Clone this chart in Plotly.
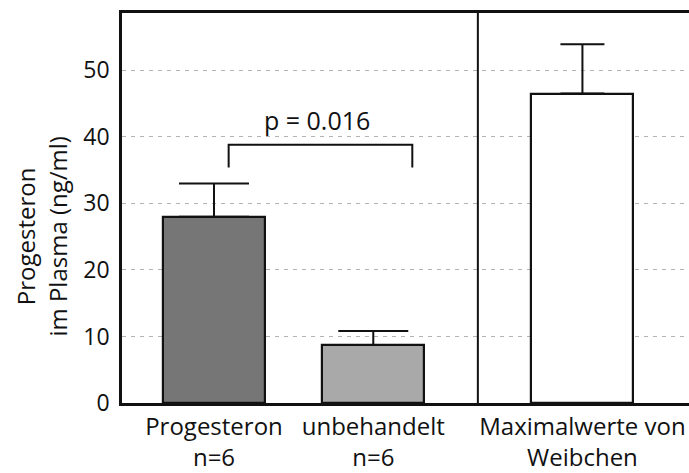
import plotly.graph_objects as go

# ---- data ----
categories = ["Progesteron<br>n=6", "unbehandelt<br>n=6", "Maximalwerte von<br>Weibchen"]
means = [28.0, 8.7, 46.5]
err_plus = [5.0, 2.1, 7.4]
fills = ["#767676", "#a9a9a9", "#ffffff"]
cap_halfwidth = [35, 35, 22]
y_ticks = [0, 10, 20, 30, 40, 50]
p_label = "p = 0.016"
y_title = "Progesteron<br>im Plasma (ng/ml)"

# group positions: first two bars adjacent, third set apart by a divider
group_gap = 0.313
positions = [1 + i + (group_gap if i >= 2 else 0) for i in range(len(categories))]
divider_x = (positions[1] + positions[2]) / 2

FONT = "Open Sans"
fig = go.Figure()
for i in range(len(categories)):
    fig.add_trace(go.Bar(
        x=[positions[i]], y=[means[i]], width=0.64,
        marker=dict(color=fills[i], line=dict(color="#111111", width=2.2)),
        error_y=dict(type="data", array=[err_plus[i]], arrayminus=[0], symmetric=False,
                     color="#111111", thickness=2, width=cap_halfwidth[i]),
        showlegend=False, hoverinfo="skip"))

# significance bracket
bx0 = positions[0] + 0.092
bx1 = positions[1] + 0.245
by_low, by_high = 35.4, 38.8
fig.add_trace(go.Scatter(x=[bx0, bx0, bx1, bx1], y=[by_low, by_high, by_high, by_low],
                         mode="lines", line=dict(color="#111111", width=2),
                         showlegend=False, hoverinfo="skip"))
fig.add_annotation(x=(bx0 + bx1) / 2 - 0.02, y=42.5, text=p_label, showarrow=False,
                   font=dict(family=FONT, size=25, color="#111111"),
                   xanchor="center", yanchor="middle")

fig.add_shape(type="line", x0=divider_x, x1=divider_x, y0=0, y1=1, yref="paper",
              line=dict(color="#111111", width=2))

fig.add_annotation(xref="paper", x=0, xshift=-81, yref="y", y=25.0, text=y_title,
                   textangle=-90, showarrow=False, xanchor="center", yanchor="middle",
                   font=dict(family=FONT, size=24, color="#111111"))

fig.update_layout(
    width=689, height=473,
    margin=dict(l=122, r=0, t=13, b=67),
    paper_bgcolor="white", plot_bgcolor="white",
    font=dict(family=FONT, size=24, color="#111111"),
    bargap=0,
    xaxis=dict(range=[0.4225, 3.982], tickvals=positions, ticktext=categories,
               showline=True, linecolor="#111111", linewidth=2.5, mirror=True,
               showgrid=False, zeroline=False, ticks="", tickfont=dict(size=24)),
    yaxis=dict(range=[0, 58.6], tickvals=y_ticks, showline=True, linecolor="#111111",
               linewidth=2.5, showgrid=True, gridcolor="#b3b3b3", griddash="4px,5px",
               gridwidth=1.3, zeroline=False, ticks="", ticklabelstandoff=5,
               tickfont=dict(size=23)),
)
fig.write_html("out.html", config={"displayModeBar": False},
               post_script="document.body.style.margin='0';document.body.style.overflow='hidden';")
